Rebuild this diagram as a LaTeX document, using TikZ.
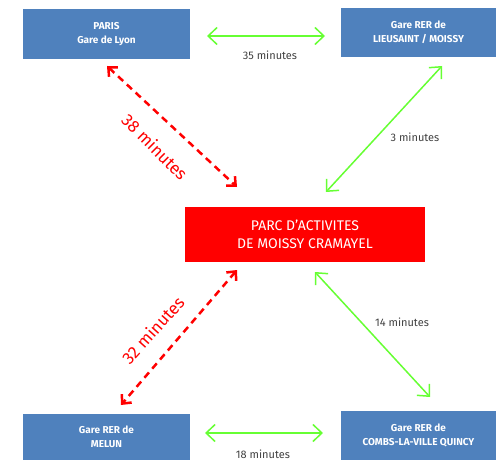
\documentclass[tikz,border=0pt]{standalone}
\usepackage{fontspec}
\setmainfont{Fira Sans}
\usetikzlibrary{arrows.meta}
\definecolor{boxblue}{RGB}{79,129,189}
\definecolor{lgreen}{RGB}{102,255,51}
\definecolor{lred}{RGB}{255,0,0}
\definecolor{lgrey}{RGB}{64,64,64}
\begin{document}
\begin{tikzpicture}[x=1pt,y=-1pt,
  station/.style={fill=boxblue, text=white, align=center, inner sep=0pt,
    font=\bfseries\fontsize{10}{14}\selectfont},
  park/.style={fill=lred, text=white, align=center, inner sep=0pt,
    minimum width=240pt, minimum height=55pt, font=\fontsize{14}{18}\selectfont},
  greenlink/.style={draw=lgreen, line width=1.5pt,
    {Straight Barb[length=9pt,width=17pt]}-{Straight Barb[length=9pt,width=17pt]}},
  redlink/.style={draw=lred, line width=2.5pt, dash pattern=on 7pt off 5pt,
    {Straight Barb[length=7pt,width=13pt]}-{Straight Barb[length=7pt,width=13pt]}},
  glabel/.style={text=lgrey, font=\fontsize{11}{13}\selectfont, inner sep=0pt},
  rlabel/.style={text=lred, font=\fontsize{17}{19}\selectfont, inner sep=0pt}]
\useasboundingbox (0,0) rectangle (496,460);

\node[station, minimum width=167pt, minimum height=50pt] (paris) at (106.5,34) {PARIS\\Gare de Lyon};
\node[station, minimum width=155pt, minimum height=49pt] (lieu) at (418.5,32.5) {Gare RER de\\LIEUSAINT / MOISSY};
\node[station, minimum width=167pt, minimum height=46pt] (melun) at (106.5,437) {Gare RER de\\MELUN};
\node[station, minimum width=155pt, minimum height=49pt] (combs) at (418.5,435.5) {Gare RER de\\COMBS-LA-VILLE QUINCY};
\node[park] (parc) at (305,234.5) {PARC D'ACTIVITES\\DE MOISSY CRAMAYEL};

\coordinate (a1) at (207,36);   \coordinate (a2) at (325,36);
\coordinate (b1) at (442,66);   \coordinate (b2) at (326,192);
\coordinate (c1) at (107,66);   \coordinate (c2) at (237,187);
\coordinate (d1) at (237,270);  \coordinate (d2) at (121,405);
\coordinate (e1) at (315,272);  \coordinate (e2) at (430,397);
\coordinate (f1) at (205,433);  \coordinate (f2) at (323,433);

\draw[greenlink] (a1) -- (a2);
\draw[greenlink] (b1) -- (b2);
\draw[redlink] (c1) -- (c2);
\draw[redlink] (d1) -- (d2);
\draw[greenlink] (e1) -- (e2);
\draw[greenlink] (f1) -- (f2);

\node[glabel] (l35) at (270,55) {35 minutes};
\node[glabel] (l3) at (415,137) {3 minutes};
\node[glabel] (l14) at (402,322) {14 minutes};
\node[glabel] (l18) at (263,454) {18 minutes};
\node[rlabel, rotate=-45] (l38) at (155,147) {38 minutes};
\node[rlabel, rotate=48] (l32) at (153,330) {32 minutes};
\end{tikzpicture}
\end{document}
